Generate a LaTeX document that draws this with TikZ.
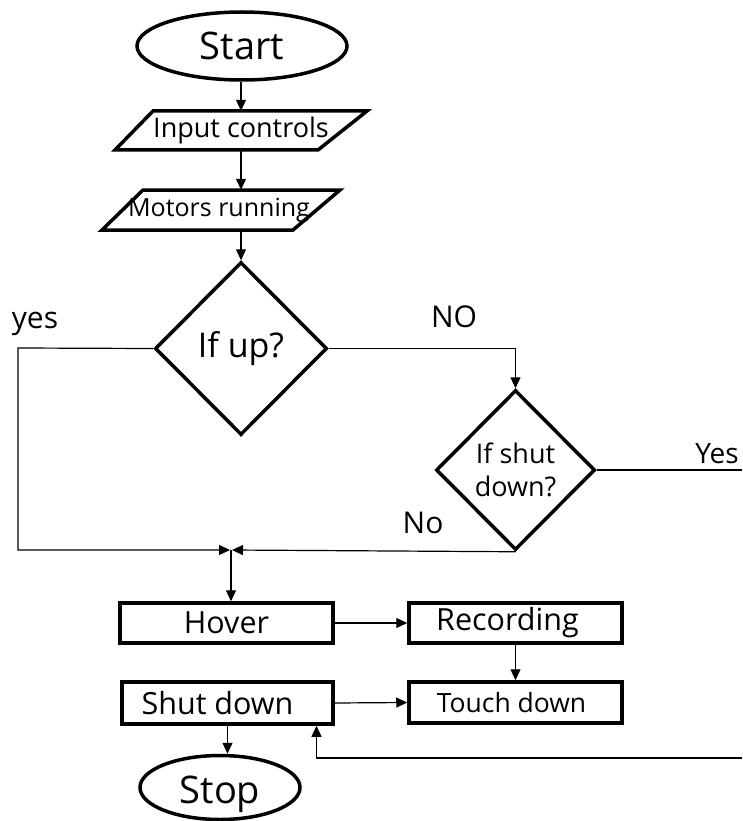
\documentclass[tikz,border=0pt]{standalone}
\usepackage{fontspec}
\setmainfont{Open Sans}
\usetikzlibrary{shapes.geometric,arrows.meta}
\begin{document}
\begin{tikzpicture}[x=1pt,y=-1pt,
 shp/.style={draw=black, line width=3.5pt, line join=miter},
 term/.style={shp, ellipse, inner sep=0pt, font=\fontsize{38}{40}\selectfont},
 proc/.style={shp, rectangle, inner sep=0pt, font=\fontsize{30.5}{32}\selectfont},
 dec/.style={shp, diamond, inner sep=0pt},
 io/.style={inner sep=0pt},
 conn/.style={line width=1.2pt},
 arr/.style={conn, -{Triangle[length=11pt,width=10pt]}},
 lbl/.style={inner sep=0pt, anchor=base, font=\fontsize{30}{32}\selectfont}]
\useasboundingbox (0,0) rectangle (742,821);
% terminals
\node[term, minimum width=210pt, minimum height=68pt] (start) at (242,46) {Start};
\node[term, minimum width=160pt, minimum height=64pt] (stop) at (220,787.5) {\raisebox{-16pt}[0pt][0pt]{Stop}};
% input/output shapes
\draw[shp] (153,111) -- (367,111) -- (318,150) -- (115,150) -- cycle;
\node[io, minimum width=200pt, minimum height=39pt, font=\fontsize{27}{29}\selectfont] (inp) at (241,130.5) {Input controls};
\draw[shp] (143,190) -- (340,190) -- (293,230) -- (102,230) -- cycle;
\node[io, minimum width=170pt, minimum height=40pt, font=\fontsize{25}{27}\selectfont] (mot) at (219,210) {Motors running};
% decisions
\node[dec, minimum width=172pt, minimum height=173pt, font=\fontsize{34}{36}\selectfont] (d1) at (241,348.5) {If up?};
\node[dec, minimum width=159pt, minimum height=160pt, align=center, font=\fontsize{27}{33}\selectfont] (d2) at (515.5,470) {If shut\\down?};
% processes
\node[proc, minimum width=213pt, minimum height=40pt] (hover) at (226.5,623) {Hover};
\node[proc, minimum width=213pt, minimum height=40pt] (rec) at (515.5,623) {Recording\hspace*{16pt}};
\node[proc, minimum width=211pt, minimum height=42pt] (shut) at (227.5,703) {Shut down\hspace*{20pt}};
\node[proc, minimum width=213pt, minimum height=41pt, font=\fontsize{26.5}{28}\selectfont] (touch) at (515.5,702.5) {Touch down\hspace*{8pt}};
% helper coordinates
\coordinate (jn) at (231,550);
\coordinate (ly) at (18,348);
\coordinate (ye) at (742,470);
\coordinate (rr) at (742,758);
% connectors
\draw[arr] (start.south -| inp.north) -- (inp.north);
\draw[arr] (inp.south) -- (inp.south |- mot.north);
\draw[arr] (mot.south -| d1.north) -- (d1.north);
\draw[arr] (d1.west) -- (ly) |- ([xshift=-1pt]jn);
\draw[arr] (d1.east) -| (d2.north);
\draw[arr] (d2.south) -- ([xshift=1pt]jn);
\draw[conn] (d2.east) -- (ye);
\draw[arr] (jn) -- (jn |- hover.north);
\draw[arr] (hover.east) -- (rec.west);
\draw[arr] (rec.south) -- (touch.north);
\draw[arr] (shut.east) -- (touch.west);
\draw[arr] (shut.south) -- (shut.south |- stop.north);
\draw[arr] (rr) -| ([xshift=89pt]shut.south);
% labels
\node[lbl] (lyes) at (35,328) {yes};
\node[lbl] (lno1) at (454,327) {NO};
\node[lbl, font=\fontsize{28}{30}\selectfont] (lyes2) at (717,463) {Yes};
\node[lbl] (lno2) at (423,533) {No};
\end{tikzpicture}
\end{document}
